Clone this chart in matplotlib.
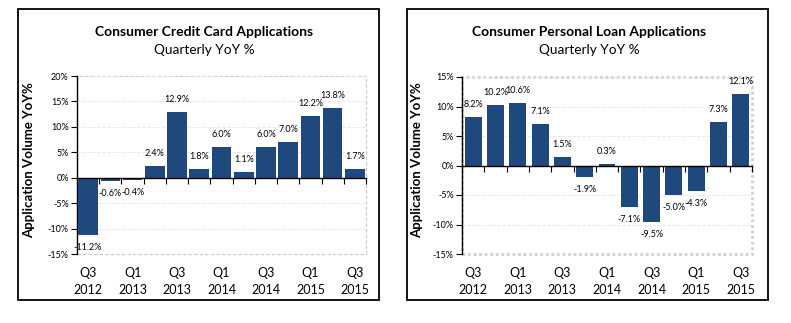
import matplotlib.pyplot as plt
from matplotlib.patches import Rectangle
from matplotlib.transforms import blended_transform_factory
import numpy as np

plt.rcParams['font.family'] = ['Lato', 'DejaVu Sans']

quarters = ['Q3\n2012', 'Q4\n2012', 'Q1\n2013', 'Q2\n2013', 'Q3\n2013', 'Q4\n2013', 'Q1\n2014',
            'Q2\n2014', 'Q3\n2014', 'Q4\n2014', 'Q1\n2015', 'Q2\n2015', 'Q3\n2015']
credit_card = [-11.2, -0.6, -0.4, 2.4, 12.9, 1.8, 6.0, 1.1, 6.0, 7.0, 12.2, 13.8, 1.7]
personal_loan = [8.2, 10.2, 10.6, 7.1, 1.5, -1.9, 0.3, -7.1, -9.5, -5.0, -4.3, 7.3, 12.1]

bar_color = '#1f497d'
W, H = 791, 323

fig = plt.figure(figsize=(W / 100, H / 100), dpi=100)


def px_box(x0, y0, x1, y1):
    # pixel coords (top-left origin) -> figure fraction rect
    return [x0 / W, 1 - y1 / H, (x1 - x0) / W, (y1 - y0) / H]


def draw_panel(ax_rect, frame_rect, values, title, ylim, yticks, bar_w, border_style, title_x, ylab_x):
    b = px_box(*frame_rect)
    fig.patches.append(Rectangle((b[0], b[1]), b[2], b[3], transform=fig.transFigure,
                                 fill=False, ec='black', lw=1.3))
    ax = fig.add_axes(px_box(*ax_rect))
    x = np.arange(len(values))
    ax.bar(x, values, width=bar_w, color=bar_color, zorder=3)
    ax.set_xlim(-0.5, len(values) - 0.5)
    ax.set_ylim(*ylim)
    ax.set_yticks(yticks)
    ax.set_yticklabels([f'{t}%' for t in yticks], fontsize=6.5)
    for t in yticks:
        ax.axhline(t, color='#e4e4e4', lw=0.6, ls=(0, (4, 2)), zorder=1)

    for s in ['top', 'right']:
        ax.spines[s].set_visible(False)
    ax.spines['left'].set_linewidth(1.0)
    ax.spines['bottom'].set_position(('data', 0))
    ax.spines['bottom'].set_linewidth(1.0)
    ax.spines['bottom'].set_zorder(4)
    ax.add_patch(Rectangle((0, 0), 1, 1, transform=ax.transAxes, fill=False, clip_on=False,
                           zorder=0, **border_style))

    ax.set_xticks(np.arange(-0.5, len(values), 1))
    ax.tick_params(axis='x', direction='out', length=4, width=0.8, labelbottom=False)
    ax.tick_params(axis='y', direction='out', length=4, width=0.8, pad=2)

    trans = blended_transform_factory(ax.transData, ax.transAxes)
    for i in range(0, len(values), 2):
        ax.text(i, -0.155, quarters[i], transform=trans, ha='center', va='center',
                fontsize=9, linespacing=1.45)

    for i, v in enumerate(values):
        off = 9 if v >= 0 else -9
        ax.annotate(f'{v:.1f}%', (i, v), xytext=(0, off), textcoords='offset points',
                    ha='center', va='center', fontsize=6.5, zorder=5)

    fig.text(title_x / W, 1 - 32 / H, title, ha='center', va='center', fontsize=10, fontweight='bold')
    fig.text(title_x / W, 1 - 50 / H, 'Quarterly YoY %', ha='center', va='center', fontsize=9.8)
    fig.text(ylab_x / W, 1 - 160 / H, 'Application Volume YoY%', rotation=90, ha='center',
             va='center', fontsize=9.5, fontweight='bold')
    return ax


draw_panel((77, 76, 366, 254), (18, 9, 379, 300), credit_card,
           'Consumer Credit Card Applications', (-15, 20), list(range(-15, 21, 5)), 0.88,
           dict(ec='#c8c8c8', lw=0.8, ls=(0, (3, 2))), 204, 29)

draw_panel((462, 77, 752, 254), (407, 9, 768, 300), personal_loan,
           'Consumer Personal Loan Applications', (-15, 15), list(range(-15, 16, 5)), 0.76,
           dict(ec='#d0d0d0', lw=2.0, ls=(0, (1, 1))), 589, 417)

fig.savefig('out.png', dpi=100)
